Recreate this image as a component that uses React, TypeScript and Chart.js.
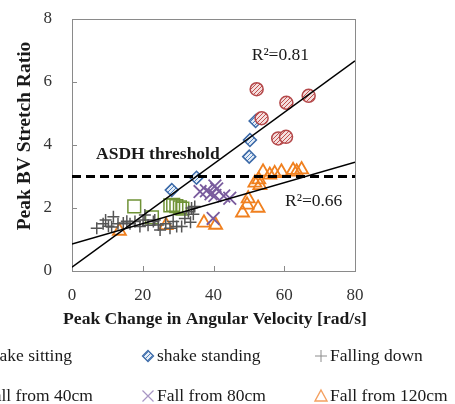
import React, { useEffect, useRef } from "react";
import { Chart, registerables } from "chart.js";
Chart.register(...registerables);

// ---- data ----
const shakeSittingX = [52.2, 60.6, 66.9, 53.6, 58.3, 60.5];
const shakeSittingY = [5.77, 5.34, 5.56, 4.85, 4.21, 4.26];

const shakeStandingX = [28.2, 35.2, 50.1, 50.3, 51.9];
const shakeStandingY = [2.57, 2.96, 3.63, 4.16, 4.76];

const fallingDownX = [7.0, 8.8, 9.5, 10.3, 11.2, 11.7, 13.0, 14.5, 15.5, 16.4, 17.8, 19.2, 20.1, 20.6, 21.5, 23.0, 23.4, 24.4, 24.9, 26.5, 27.7, 28.6, 29.6, 31.0, 31.9, 32.9, 33.8, 34.3, 34.7, 33.5];
const fallingDownY = [1.36, 1.5, 1.62, 1.42, 1.4, 1.72, 1.5, 1.52, 1.58, 1.5, 1.57, 1.41, 1.62, 1.78, 1.45, 1.57, 1.62, 1.46, 1.3, 1.5, 1.36, 1.57, 1.41, 1.41, 1.67, 1.88, 2.0, 1.8, 2.05, 1.55];

const fall40X = [17.6, 22.6, 27.8, 28.6, 29.5, 30.5, 31.2];
const fall40Y = [2.05, 1.7, 2.08, 2.1, 2.06, 2.02, 1.98];

const fall80X = [36.2, 38.0, 39.3, 40.4, 40.9, 40.4, 42.9, 44.6, 39.9];
const fall80Y = [2.52, 2.55, 2.45, 2.7, 2.6, 2.4, 2.38, 2.31, 1.67];

const fall120X = [13.4, 26.6, 37.3, 40.6, 48.2, 49.5, 49.8, 52.6, 51.7, 53.1, 52.8, 54.0, 55.9, 57.3, 59.2, 62.5, 63.5, 64.9];
const fall120Y = [1.27, 1.45, 1.53, 1.46, 1.85, 2.1, 2.3, 2.0, 2.8, 2.72, 2.9, 3.15, 3.05, 3.1, 3.15, 3.2, 3.15, 3.22];

const trendX = [0, 80];
const trendSteepY = [0.12, 6.67];
const trendFlatY = [0.86, 3.45];
const thresholdY = [3, 3];

const xTicks = [0, 20, 40, 60, 80];
const yTicks = [0, 2, 4, 6, 8];

const seriesNames = ["shake sitting", "shake standing", "Falling down", "Fall from 40cm", "Fall from 80cm", "Fall from 120cm"];
const xTitle = "Peak Change in Angular Velocity [rad/s]";
const yTitle = "Peak BV Stretch Ratio";
const r2Steep = "R\u00B2=0.81";
const r2Flat = "R\u00B2=0.66";
const thresholdLabel = "ASDH threshold";

const pts = (xs: number[], ys: number[]) => xs.map((x, i) => ({ x, y: ys[i] }));

const SERIF = '"Liberation Serif", "Times New Roman", serif';

function hatch(ctx: CanvasRenderingContext2D, bg: string, fg: string) {
  const c = document.createElement("canvas");
  c.width = 4;
  c.height = 4;
  const g = c.getContext("2d")!;
  g.fillStyle = bg;
  g.fillRect(0, 0, 4, 4);
  g.strokeStyle = fg;
  g.lineWidth = 1;
  g.beginPath();
  g.moveTo(0, 4);
  g.lineTo(4, 0);
  g.moveTo(-1, 1);
  g.lineTo(1, -1);
  g.moveTo(3, 5);
  g.lineTo(5, 3);
  g.stroke();
  return ctx.createPattern(c, "repeat") as CanvasPattern;
}

export default function App() {
  const ref = useRef<HTMLCanvasElement | null>(null);

  useEffect(() => {
    const canvas = ref.current!;
    const ctx = canvas.getContext("2d")!;
    const redHatch = hatch(ctx, "#f4dede", "#c0504d");
    const blueHatch = hatch(ctx, "#e4ecf6", "#4f81bd");

    const colors = {
      red: "#b4484a",
      blue: "#3c6aa8",
      grey: "#555555",
      green: "#6f9236",
      purple: "#7a5c9e",
      orange: "#f0801f",
    };

    const deco = {
      id: "deco",
      beforeDatasetsDraw(chart: any) {
        const c = chart.ctx;
        const a = chart.chartArea;
        const xs = chart.scales.x;
        const ys = chart.scales.y;
        c.save();
        c.strokeStyle = "#8a8a8a";
        c.lineWidth = 1;
        c.strokeRect(Math.round(a.left) + 0.5, Math.round(a.top) + 0.5, Math.round(a.right - a.left), Math.round(a.bottom - a.top));
        c.beginPath();
        xTicks.forEach((v) => {
          const px = Math.round(xs.getPixelForValue(v)) + 0.5;
          c.moveTo(px, a.bottom);
          c.lineTo(px, a.bottom - 5);
        });
        yTicks.forEach((v) => {
          const py = Math.round(ys.getPixelForValue(v)) + 0.5;
          c.moveTo(a.left, py);
          c.lineTo(a.left + 5, py);
        });
        c.stroke();
        c.restore();
      },
      afterDraw(chart: any) {
        const c = chart.ctx;
        const xs = chart.scales.x;
        const ys = chart.scales.y;
        const a = chart.chartArea;
        c.save();
        c.fillStyle = "#1a1a1a";
        c.textBaseline = "middle";
        c.textAlign = "left";
        c.font = `17.5px ${SERIF}`;
        c.fillText(r2Steep, xs.getPixelForValue(50.8), ys.getPixelForValue(6.86));
        c.fillText(r2Flat, xs.getPixelForValue(60.2), ys.getPixelForValue(2.2));
        c.font = `bold 17.5px ${SERIF}`;
        c.fillText(thresholdLabel, xs.getPixelForValue(6.8), ys.getPixelForValue(3.71));

        // x title
        c.save();
        c.textAlign = "center";
        c.font = `bold 17.6px ${SERIF}`;
        c.fillText(xTitle, (a.left + a.right) / 2 + 1.5, 319);
        c.restore();

        // y title
        c.save();
        c.translate(25, 136);
        c.rotate(-Math.PI / 2);
        c.textAlign = "center";
        c.font = `bold 19.5px ${SERIF}`;
        c.fillText(yTitle, 0, 0);
        c.restore();

        // legend
        const colX = [-25, 148, 321];
        const rowY = [356, 396];
        const drawMarker = (i: number, mx: number, my: number) => {
          c.save();
          c.lineWidth = 1.3;
          if (i === 0) {
            c.beginPath();
            c.arc(mx, my, 5, 0, Math.PI * 2);
            c.fillStyle = redHatch;
            c.fill();
            c.strokeStyle = colors.red;
            c.stroke();
          } else if (i === 1) {
            c.beginPath();
            c.moveTo(mx, my - 5.5);
            c.lineTo(mx + 5.5, my);
            c.lineTo(mx, my + 5.5);
            c.lineTo(mx - 5.5, my);
            c.closePath();
            c.fillStyle = blueHatch;
            c.fill();
            c.strokeStyle = colors.blue;
            c.stroke();
          } else if (i === 2) {
            c.strokeStyle = "#8c8c8c";
            c.lineWidth = 1;
            c.beginPath();
            c.moveTo(mx - 6, my);
            c.lineTo(mx + 6, my);
            c.moveTo(mx, my - 6);
            c.lineTo(mx, my + 6);
            c.stroke();
          } else if (i === 3) {
            c.strokeStyle = colors.green;
            c.strokeRect(mx - 5, my - 5, 10, 10);
          } else if (i === 4) {
            c.strokeStyle = "#a896c4";
            c.lineWidth = 1.2;
            c.beginPath();
            c.moveTo(mx - 5.5, my - 5.5);
            c.lineTo(mx + 5.5, my + 5.5);
            c.moveTo(mx + 5.5, my - 5.5);
            c.lineTo(mx - 5.5, my + 5.5);
            c.stroke();
          } else {
            c.strokeStyle = "#f4a060";
            c.lineWidth = 1.4;
            c.beginPath();
            c.moveTo(mx, my - 6);
            c.lineTo(mx + 6, my + 5);
            c.lineTo(mx - 6, my + 5);
            c.closePath();
            c.stroke();
          }
          c.restore();
        };
        c.font = `17.5px ${SERIF}`;
        c.fillStyle = "#1a1a1a";
        seriesNames.forEach((name, i) => {
          const col = i % 3;
          const row = Math.floor(i / 3);
          const mx = colX[col];
          const my = rowY[row];
          drawMarker(i, mx, my);
          c.fillText(name, mx + 9, my);
        });
        c.restore();
      },
    };

    const chart = new Chart(canvas, {
      type: "scatter",
      data: {
        datasets: [
          {
            label: "trend1",
            data: pts(trendX, trendSteepY),
            showLine: true,
            pointRadius: 0,
            borderColor: "#000",
            borderWidth: 1.5,
          },
          {
            label: "trend2",
            data: pts(trendX, trendFlatY),
            showLine: true,
            pointRadius: 0,
            borderColor: "#000",
            borderWidth: 1.5,
          },
          {
            label: "threshold",
            data: pts(trendX, thresholdY),
            showLine: true,
            pointRadius: 0,
            borderColor: "#000",
            borderWidth: 3,
            borderDash: [9, 5],
          },
          {
            label: seriesNames[0],
            data: pts(shakeSittingX, shakeSittingY),
            pointStyle: "circle",
            pointRadius: 6.5,
            backgroundColor: redHatch,
            borderColor: colors.red,
            borderWidth: 1.5,
          },
          {
            label: seriesNames[1],
            data: pts(shakeStandingX, shakeStandingY),
            pointStyle: "rectRot",
            pointRadius: 6.5,
            backgroundColor: blueHatch,
            borderColor: colors.blue,
            borderWidth: 1.5,
          },
          {
            label: seriesNames[2],
            data: pts(fallingDownX, fallingDownY),
            pointStyle: "cross",
            pointRadius: 6,
            backgroundColor: "transparent",
            borderColor: colors.grey,
            borderWidth: 1.5,
          },
          {
            label: seriesNames[3],
            data: pts(fall40X, fall40Y),
            pointStyle: "rect",
            pointRadius: 9,
            backgroundColor: "transparent",
            borderColor: colors.green,
            borderWidth: 1.5,
          },
          {
            label: seriesNames[4],
            data: pts(fall80X, fall80Y),
            pointStyle: "crossRot",
            pointRadius: 9,
            backgroundColor: "transparent",
            borderColor: colors.purple,
            borderWidth: 1.8,
          },
          {
            label: seriesNames[5],
            data: pts(fall120X, fall120Y),
            pointStyle: "triangle",
            pointRadius: 7.5,
            backgroundColor: "transparent",
            borderColor: colors.orange,
            borderWidth: 1.8,
          },
        ],
      },
      options: {
        animation: false,
        responsive: false,
        maintainAspectRatio: false,
        layout: { padding: { left: 0, right: 100, top: 19, bottom: 0 } },
        plugins: {
          legend: { display: false },
          tooltip: { enabled: false },
        },
        scales: {
          x: {
            type: "linear",
            min: 0,
            max: 80,
            afterBuildTicks: (s: any) => {
              s.ticks = xTicks.map((v) => ({ value: v }));
            },
            afterFit: (s: any) => {
              s.height = 133;
              s.paddingLeft = 0;
              s.paddingRight = 0;
            },
            ticks: {
              padding: 14,
              color: "#333",
              font: { family: SERIF, size: 17 },
            },
            grid: { display: false, drawTicks: false },
            border: { display: false },
          },
          y: {
            type: "linear",
            min: 0,
            max: 8,
            afterBuildTicks: (s: any) => {
              s.ticks = yTicks.map((v) => ({ value: v }));
            },
            afterFit: (s: any) => {
              s.width = 72;
              s.paddingTop = 0;
              s.paddingBottom = 0;
            },
            ticks: {
              padding: 20,
              color: "#333",
              font: { family: SERIF, size: 17 },
            },
            grid: { display: false, drawTicks: false },
            border: { display: false },
          },
        },
      },
      plugins: [deco],
    } as any);

    return () => chart.destroy();
  }, []);

  return (
    <div style={{ position: "fixed", left: 0, top: 0, width: 455, height: 404, background: "#fff" }}>
      <canvas ref={ref} width={455} height={404} style={{ width: 455, height: 404, display: "block" }} />
    </div>
  );
}
